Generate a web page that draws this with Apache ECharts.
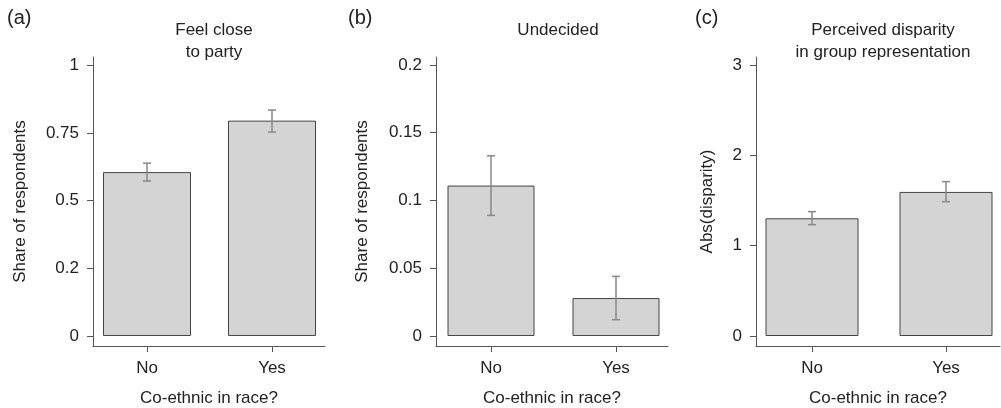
<!DOCTYPE html>
<html>
<head>
<meta charset="utf-8">
<script src="https://cdn.jsdelivr.net/npm/echarts@6/dist/echarts.min.js"></script>
<style>
html,body{margin:0;padding:0;background:#fff;}
#chart{width:1001px;height:408px;}
</style>
</head>
<body>
<div id="chart"></div>
<script>
// ---- data ----
var categories = ['No', 'Yes'];

var closeMean = [0.605, 0.795];
var closeLow  = [0.572, 0.753];
var closeHigh = [0.638, 0.834];

var undecidedMean = [0.111, 0.028];
var undecidedLow  = [0.089, 0.012];
var undecidedHigh = [0.133, 0.044];

var disparityMean = [1.303, 1.595];
var disparityLow  = [1.233, 1.487];
var disparityHigh = [1.377, 1.709];

var closeTicks = [0, 0.25, 0.5, 0.75, 1];
var closeTickLabels = ['0', '0.2', '0.5', '0.75', '1'];
var undecidedTicks = [0, 0.05, 0.1, 0.15, 0.2];
var undecidedTickLabels = ['0', '0.05', '0.1', '0.15', '0.2'];
var disparityTicks = [0, 1, 2, 3];
var disparityTickLabels = ['0', '1', '2', '3'];

var panelLetters = ['(a)', '(b)', '(c)'];
var panelTitles = ['Feel close\nto party', 'Undecided', 'Perceived disparity\nin group representation'];
var yNames = ['Share of respondents', 'Share of respondents', 'Abs(disparity)'];
var xName = 'Co-ethnic in race?';

// ---- layout ----
var FONT = 'Liberation Sans, Arial, sans-serif';
var TXT = '#222';
var AX = '#555';
var FS = 17;

var panels = [
  {grid:{left:93, top:57, width:232, height:289}, xmin:-0.432, xmax:1.424, ymin:-0.037, ymax:1.03, bw:88, nameGap:64.5,
   mean:closeMean, low:closeLow, high:closeHigh, ticks:closeTicks, labels:closeTickLabels, letterX:2, titleX:209},
  {grid:{left:436, top:57, width:232, height:289}, xmin:-0.44, xmax:1.416, ymin:-0.00738, ymax:0.2059, bw:87, nameGap:65.5,
   mean:undecidedMean, low:undecidedLow, high:undecidedHigh, ticks:undecidedTicks, labels:undecidedTickLabels, letterX:343, titleX:553},
  {grid:{left:756, top:57, width:244, height:289}, xmin:-0.418, xmax:1.403, ymin:-0.1107, ymax:3.0886, bw:93, nameGap:40.5,
   mean:disparityMean, low:disparityLow, high:disparityHigh, ticks:disparityTicks, labels:disparityTickLabels, letterX:690, titleX:878}
];

var grids = [], xAxes = [], yAxes = [], series = [], titles = [];

panels.forEach(function(p, i){
  var g = p.grid;
  grids.push({left:g.left, top:g.top, width:g.width, height:g.height, containLabel:false, outerBoundsMode:'none'});
  xAxes.push({
    type:'value', gridIndex:i, min:p.xmin, max:p.xmax,
    name:xName, nameLocation:'middle', nameGap:44,
    nameTextStyle:{fontFamily:FONT, fontSize:FS, color:TXT},
    axisLine:{onZero:false, lineStyle:{color:AX, width:1}},
    axisTick:{customValues:[0,1], length:6, lineStyle:{color:AX}},
    axisLabel:{customValues:[0,1], margin:14, fontFamily:FONT, fontSize:FS, color:TXT,
      formatter:function(v){ return categories[Math.round(v)]; }},
    splitLine:{show:false}
  });
  (function(labels, ticks){
    yAxes.push({
      type:'value', gridIndex:i, min:p.ymin, max:p.ymax,
      name:yNames[i], nameLocation:'middle', nameGap:p.nameGap, nameRotate:90,
      nameTextStyle:{fontFamily:FONT, fontSize:FS, color:TXT},
      axisLine:{show:true, onZero:false, lineStyle:{color:AX, width:1}},
      axisTick:{show:true, customValues:ticks, length:6, lineStyle:{color:AX}},
      axisLabel:{customValues:ticks, margin:14, fontFamily:FONT, fontSize:FS, color:TXT,
        formatter:function(v){
          for (var k=0;k<ticks.length;k++){ if (Math.abs(ticks[k]-v)<1e-9) return labels[k]; }
          return '';
        }},
      splitLine:{show:false}
    });
  })(p.labels, p.ticks);

  series.push({
    type:'bar', xAxisIndex:i, yAxisIndex:i, barWidth:p.bw,
    data:p.mean.map(function(v, k){ return [k, v]; }),
    itemStyle:{color:'#d4d4d4', borderColor:'#444', borderWidth:1},
    silent:true, animation:false
  });
  series.push({
    type:'custom', xAxisIndex:i, yAxisIndex:i, silent:true, animation:false, z:5,
    data:p.low.map(function(v, k){ return [k, v, p.high[k]]; }),
    renderItem:function(params, api){
      var x = api.value(0);
      var lo = api.coord([x, api.value(1)]);
      var hi = api.coord([x, api.value(2)]);
      var cap = 4;
      var st = {stroke:'#888', lineWidth:1.5, fill:null};
      return {type:'group', children:[
        {type:'line', shape:{x1:lo[0], y1:lo[1], x2:hi[0], y2:hi[1]}, style:st},
        {type:'line', shape:{x1:lo[0]-cap, y1:lo[1], x2:lo[0]+cap, y2:lo[1]}, style:st},
        {type:'line', shape:{x1:hi[0]-cap, y1:hi[1], x2:hi[0]+cap, y2:hi[1]}, style:st}
      ]};
    }
  });

  titles.push({text:panelLetters[i], left:p.letterX, top:3,
    textStyle:{fontFamily:FONT, fontSize:20, fontWeight:'normal', color:TXT}});
  titles.push({text:panelTitles[i], left:p.titleX, top:14, textAlign:'center',
    textStyle:{fontFamily:FONT, fontSize:FS, fontWeight:'normal', color:TXT, lineHeight:22}});
});

var chart = echarts.init(document.getElementById('chart'), null, {renderer:'canvas'});
chart.setOption({
  backgroundColor:'#fff',
  animation:false,
  title:titles,
  grid:grids,
  xAxis:xAxes,
  yAxis:yAxes,
  series:series
});
</script>
</body>
</html>
